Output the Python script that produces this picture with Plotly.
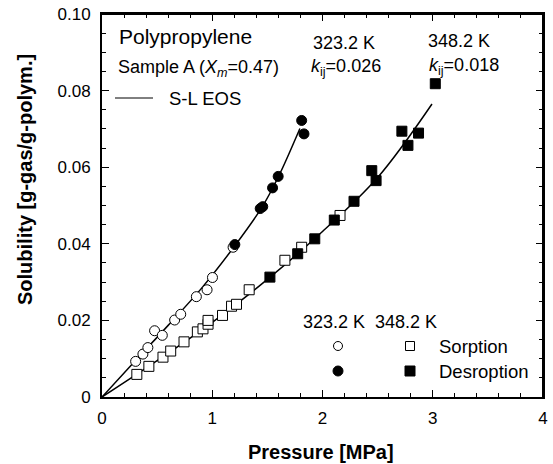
import plotly.graph_objects as go

# Solubility of gas in polypropylene (Sample A), pressure in MPa
# 323.2 K sorption (open circles)
p323_sorp = [0.305, 0.371, 0.416, 0.477, 0.547, 0.659, 0.714, 0.856, 0.953, 1.002, 1.189]
s323_sorp = [0.0093, 0.0112, 0.0129, 0.0173, 0.0161, 0.0201, 0.0216, 0.0262, 0.0280, 0.0312, 0.0391]
# 323.2 K desorption (filled circles)
p323_desorp = [1.205, 1.435, 1.458, 1.547, 1.598, 1.811, 1.832]
s323_desorp = [0.0398, 0.0492, 0.0497, 0.0546, 0.0576, 0.0722, 0.0687]
# 348.2 K sorption (open squares)
p348_sorp = [0.316, 0.425, 0.553, 0.623, 0.744, 0.865, 0.916, 0.962, 0.962, 1.093, 1.175,
             1.220, 1.335, 1.659, 1.811, 2.159]
s348_sorp = [0.0059, 0.0080, 0.0104, 0.0120, 0.0144, 0.0170, 0.0178, 0.0190, 0.0200, 0.0213,
             0.0237, 0.0242, 0.0280, 0.0357, 0.0391, 0.0474]
# 348.2 K desorption (filled squares)
p348_desorp = [1.523, 1.775, 1.930, 2.107, 2.286, 2.447, 2.486, 2.720, 2.775, 2.871, 3.023]
s348_desorp = [0.0313, 0.0374, 0.0413, 0.0462, 0.0511, 0.0591, 0.0565, 0.0694, 0.0657, 0.0689, 0.0818]

# S-L EOS correlation curves
p323_eos = [0.0, 0.3, 0.6, 0.9, 1.2, 1.45, 1.6, 1.795]
s323_eos = [0.0, 0.0094, 0.0187, 0.0283, 0.0393, 0.0495, 0.0575, 0.0701]
p348_eos = [0.0, 0.5, 1.0, 1.5, 2.0, 2.5, 2.993]
s348_eos = [0.0, 0.0095, 0.0195, 0.0307, 0.0432, 0.0573, 0.0765]

x_range = [0, 4]
y_range = [0, 0.10]
x_ticks = [0, 1, 2, 3, 4]
x_ticktext = ["0", "1", "2", "3", "4"]
y_ticks = [0, 0.02, 0.04, 0.06, 0.08, 0.10]
y_ticktext = ["0", "0.02", "0.04", "0.06", "0.08", "0.10"]

FONT = "Liberation Sans, Arial, sans-serif"
W, H = 553, 464
L, R, T, B = 102, 10, 14, 67
PW, PH = W - L - R, H - T - B


def px_x(x):
    return (x - L) / PW


def px_y(y):
    return (H - B - y) / PH


fig = go.Figure()

# top and right edges of the frame, along the axis range limits
fig.add_trace(go.Scatter(x=[x_range[0], x_range[1], x_range[1]], y=[y_range[1], y_range[1], y_range[0]],
                         mode="lines", line=dict(color="black", width=2), cliponaxis=False,
                         hoverinfo="skip", showlegend=False))

# model curves
for px_, sy_ in [(p323_eos, s323_eos), (p348_eos, s348_eos)]:
    fig.add_trace(go.Scatter(x=px_, y=sy_, mode="lines", line=dict(color="black", width=1.5, shape="spline"),
                             hoverinfo="skip", showlegend=False))

open_style = dict(color="white", size=10, line=dict(color="black", width=1))
fill_style = dict(color="black", size=10, line=dict(color="black", width=1))

fig.add_trace(go.Scatter(x=p348_sorp, y=s348_sorp, mode="markers",
                         marker=dict(symbol="square", **open_style), showlegend=False))
fig.add_trace(go.Scatter(x=p348_desorp, y=s348_desorp, mode="markers",
                         marker=dict(symbol="square", **fill_style), showlegend=False))
fig.add_trace(go.Scatter(x=p323_sorp, y=s323_sorp, mode="markers",
                         marker=dict(symbol="circle", **open_style), showlegend=False))
fig.add_trace(go.Scatter(x=p323_desorp, y=s323_desorp, mode="markers",
                         marker=dict(symbol="circle", **fill_style), showlegend=False))


# key symbols placed in page pixel units
def key(cx, cy, kind, size, filled):
    h = size / 2
    fig.add_shape(type=kind, xref="paper", yref="paper",
                  x0=px_x(cx - h), x1=px_x(cx + h), y0=px_y(cy + h), y1=px_y(cy - h),
                  line=dict(color="black", width=1),
                  fillcolor="black" if filled else "white")


key(338, 346, "circle", 9, False)
key(410, 346, "rect", 9, False)
key(338, 371, "circle", 10, True)
key(410, 371, "rect", 10, True)
fig.add_shape(type="line", xref="paper", yref="paper",
              x0=px_x(115), x1=px_x(153), y0=px_y(98), y1=px_y(98),
              line=dict(color="black", width=1))


def label(x, y, text, size=18, xanchor="left", angle=0):
    fig.add_annotation(x=px_x(x), y=px_y(y), xref="paper", yref="paper",
                       text=text, showarrow=False,
                       xanchor=xanchor, yanchor="middle", textangle=angle,
                       font=dict(family=FONT, size=size, color="black"))


label(117, 37, "Polypropylene", size=21)
label(116, 68, "Sample A (<i>X</i><sub><i>m</i></sub>=0.47)", size=18)
label(167, 98, "S-L EOS", size=18.5)
label(311, 43, "323.2 K", size=18)
label(309, 67, "<i>k</i><sub>ij</sub>=0.026", size=18)
label(426, 41, "348.2 K", size=18)
label(427, 66, "<i>k</i><sub>ij</sub>=0.018", size=18)
label(301, 322, "323.2 K  348.2 K", size=18)
label(437, 346, "Sorption", size=18.5)
label(437, 371, "Desroption", size=18.5)
label(321, 452, "<b>Pressure [MPa]</b>", size=20, xanchor="center")
label(25, 180, "<b>Solubility [g-gas/g-polym.]</b>", size=20, xanchor="center", angle=-90)

axis_common = dict(showline=True, linecolor="black", linewidth=2, mirror="allticks",
                   ticks="inside", ticklen=7, tickwidth=1, tickcolor="black",
                   showgrid=False, zeroline=False,
                   tickfont=dict(family=FONT, size=17, color="black"))

fig.update_layout(
    width=W, height=H,
    margin=dict(l=L, r=R, t=T, b=B, autoexpand=False),
    paper_bgcolor="white", plot_bgcolor="white",
    xaxis=dict(range=x_range, tickvals=x_ticks, ticktext=x_ticktext,
               minor=dict(ticks="inside", dtick=0.2, ticklen=4, tickcolor="black", tickwidth=1),
               ticklabelstandoff=5, **axis_common),
    yaxis=dict(range=y_range, tickvals=y_ticks, ticktext=y_ticktext,
               minor=dict(ticks="inside", dtick=0.005, ticklen=4, tickcolor="black", tickwidth=1),
               ticklabelstandoff=6, **axis_common),
)

fig.write_html("out.html")
